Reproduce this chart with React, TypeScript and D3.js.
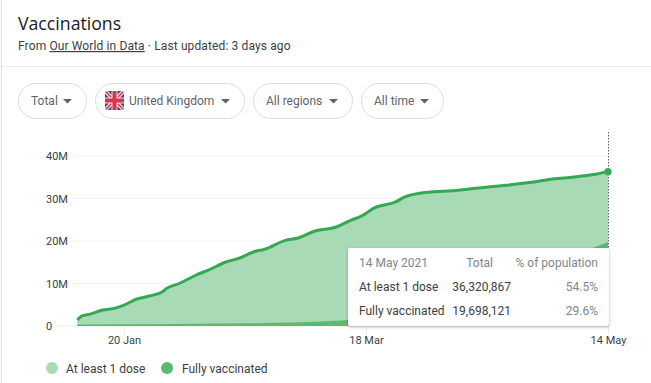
import React from "react";
import * as d3 from "d3";

const doseDates = ["2021-01-09","2021-01-10","2021-01-12","2021-01-15","2021-01-18","2021-01-20","2021-01-23","2021-01-26","2021-01-29","2021-01-30","2021-02-02","2021-02-06","2021-02-09","2021-02-13","2021-02-16","2021-02-20","2021-02-22","2021-02-27","2021-03-02","2021-03-06","2021-03-11","2021-03-14","2021-03-17","2021-03-20","2021-03-25","2021-03-27","2021-03-31","2021-04-07","2021-04-13","2021-04-20","2021-04-26","2021-05-01","2021-05-06","2021-05-11","2021-05-14"];
const atLeastOneDose = [1.4,2.35,2.8,3.76,4.2,4.9,6.35,7.06,8.0,8.8,10.0,12.0,13.2,15.06,15.9,17.6,18.0,20.15,20.7,22.35,23.3,24.7,25.9,27.8,29.2,30.3,31.3,31.8,32.4,33.1,33.8,34.6,35.05,35.7,36.320867];
const fullDates = ["2021-01-09","2021-02-01","2021-03-01","2021-03-14","2021-03-18","2021-04-01","2021-04-15","2021-05-01","2021-05-11","2021-05-14"];
const fullyVaccinated = [0.35,0.5,0.8,1.4,1.7,4.0,9.0,15.0,18.6,19.698121];
const yTicks = [0,10,20,30,40];
const xTickDates = ["2021-01-20","2021-03-18","2021-05-14"];
const xTickLabels = ["20 Jan","18 Mar","14 May"];
const pills = [
  { label: "Total", x: 18, w: 68 },
  { label: "United Kingdom", x: 95, w: 149, flag: true },
  { label: "All regions", x: 253, w: 99 },
  { label: "All time", x: 361, w: 82 },
];
const tooltipRows = [
  ["At least 1 dose","36,320,867","54.5%"],
  ["Fully vaccinated","19,698,121","29.6%"],
];

const font = "Roboto, sans-serif";
const dt = (s: string) => new Date(s + "T00:00:00Z");

export default function App() {
  const x = d3.scaleUtc().domain([dt("2021-01-20"), dt("2021-05-14")]).range([124, 608]);
  const y = d3.scaleLinear().domain([0, 40]).range([326, 156]);
  const upper = doseDates.map((d, i) => ({ d: dt(d), v: atLeastOneDose[i] }));
  const lower = fullDates.map((d, i) => ({ d: dt(d), v: fullyVaccinated[i] }));
  const area = d3.area<{ d: Date; v: number }>().x(p => x(p.d)).y0(y(0)).y1(p => y(p.v)).curve(d3.curveMonotoneX);
  const line = d3.line<{ d: Date; v: number }>().x(p => x(p.d)).y(p => y(p.v)).curve(d3.curveMonotoneX);
  const last = upper[upper.length - 1];
  const endX = x(last.d);

  return (
    <svg width={651} height={383} style={{ position: "absolute", left: 0, top: 0, background: "#fff" }} fontFamily={font}>
      <defs>
        <clipPath id="flagClip"><rect x={105} y={91} width={19} height={19} rx={3} /></clipPath>
        <filter id="tipShadow" x="-5%" y="-10%" width="110%" height="125%">
          <feDropShadow dx={0} dy={1} stdDeviation={1.5} floodColor="#3c4043" floodOpacity={0.4} />
        </filter>
      </defs>

      <line x1={1.5} x2={1.5} y1={0} y2={383} stroke="#e0e0e0" />
      <text x={18} y={30} fontSize={17.7} fill="#202124" fontFamily="'Open Sans', sans-serif">Vaccinations</text>
      <text x={18} y={50} fontSize={12} letterSpacing={0.12} fill="#3c4043">
        From <tspan textDecoration="underline">Our World in Data</tspan> · Last updated: 3 days ago
      </text>
      <line x1={2} x2={651} y1={66.5} y2={66.5} stroke="#e8eaed" />

      {pills.map(p => (
        <g key={p.label}>
          <rect x={p.x + 0.5} y={83.5} width={p.w} height={35} rx={17.5} fill="#fff" stroke="#dadce0" />
          <text x={p.x + (p.flag ? 34 : 13)} y={105} fontSize={12} fill="#5f6368">{p.label}</text>
          <path d={`M${p.x + p.w - 23} 99 h9 l-4.5 4.5 z`} fill="#5f6368" />
        </g>
      ))}
      <g clipPath="url(#flagClip)">
        <rect x={105} y={91} width={19} height={19} fill="#2b4a94" />
        <line x1={105} y1={91} x2={124} y2={110} stroke="#f3dfe0" strokeWidth={4} />
        <line x1={124} y1={91} x2={105} y2={110} stroke="#f3dfe0" strokeWidth={4} />
        <line x1={105} y1={91} x2={124} y2={110} stroke="#d8344a" strokeWidth={1.5} />
        <line x1={124} y1={91} x2={105} y2={110} stroke="#d8344a" strokeWidth={1.5} />
        <rect x={111.5} y={91} width={6} height={19} fill="#f3dfe0" />
        <rect x={105} y={97.5} width={19} height={6} fill="#f3dfe0" />
        <rect x={112.5} y={91} width={4} height={19} fill="#d8344a" />
        <rect x={105} y={98.5} width={19} height={4} fill="#d8344a" />
      </g>

      {yTicks.map(t => (
        <g key={t}>
          <line x1={t === 0 ? 53 : 69} x2={endX} y1={y(t)} y2={y(t)} stroke={t === 0 ? "#e8eaed" : "#f1f3f4"} />
          <text x={46} y={y(t) + 4} fontSize={11} fill="#3c4043">{t === 0 ? "0" : `${t}M`}</text>
        </g>
      ))}

      <path d={area(upper) ?? ""} fill="#a8dab5" />
      <path d={area(lower) ?? ""} fill="#5bb974" />
      <path d={line(upper) ?? ""} fill="none" stroke="#34a853" strokeWidth={3} strokeLinejoin="round" />

      {xTickDates.map((d, i) => (
        <g key={d}>
          <line x1={x(dt(d)) + 0.5} x2={x(dt(d)) + 0.5} y1={326} y2={334} stroke="#e8eaed" />
          <text x={x(dt(d)) + 0.5} y={344} fontSize={11} fill="#3c4043" textAnchor="middle">{xTickLabels[i]}</text>
        </g>
      ))}

      <line x1={endX + 0.5} x2={endX + 0.5} y1={132} y2={326} stroke="#5f6368" strokeDasharray="1.5 1.5" />
      <circle cx={endX} cy={y(last.v)} r={3.6} fill="#34a853" />

      <rect x={348} y={248} width={261} height={78} rx={2} fill="#fff" filter="url(#tipShadow)" />
      <text x={359} y={267} fontSize={12} fill="#80868b">14 May 2021</text>
      <text x={493} y={267} fontSize={12} fill="#80868b" textAnchor="end">Total</text>
      <text x={598} y={267} fontSize={12} fill="#80868b" textAnchor="end">% of population</text>
      {tooltipRows.map((r, i) => (
        <g key={r[0]} fontSize={12}>
          <text x={359} y={291 + i * 24} fill="#3c4043">{r[0]}</text>
          <text x={511} y={291 + i * 24} fill="#3c4043" textAnchor="end">{r[1]}</text>
          <text x={598} y={291 + i * 24} fill="#80868b" textAnchor="end">{r[2]}</text>
        </g>
      ))}

      <circle cx={52} cy={368} r={6} fill="#a8dab5" />
      <text x={66} y={373} fontSize={12} fill="#3c4043">At least 1 dose</text>
      <circle cx={167} cy={368} r={6} fill="#5bb974" />
      <text x={182} y={373} fontSize={12} fill="#3c4043">Fully vaccinated</text>
    </svg>
  );
}
